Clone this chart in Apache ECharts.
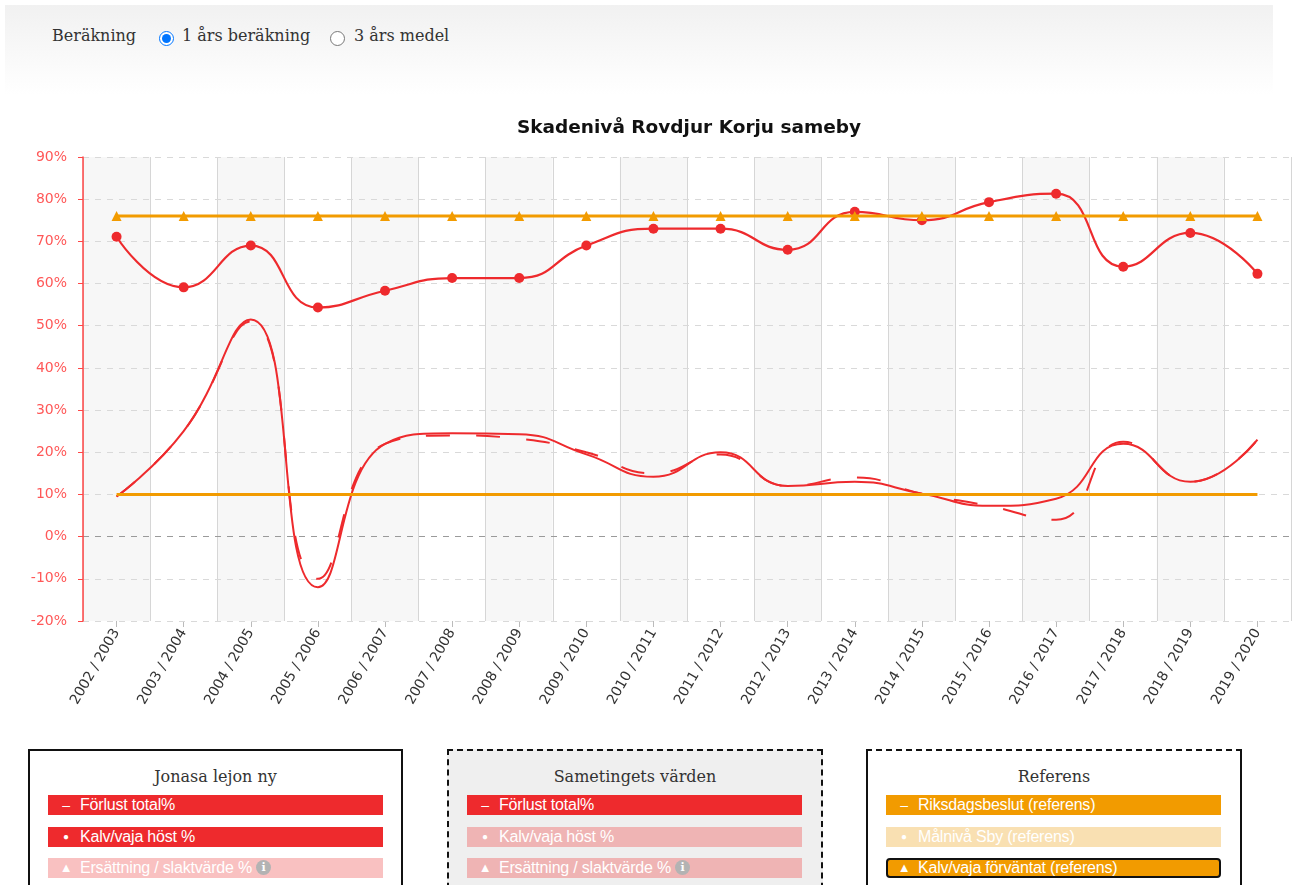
<!DOCTYPE html>
<html>
<head>
<meta charset="utf-8">
<script src="https://cdn.jsdelivr.net/npm/echarts@6/dist/echarts.min.js"></script>
<style>
  html, body { margin:0; padding:0; background:#fff; width:1293px; height:885px; overflow:hidden; }
  #topbar { position:absolute; left:5px; top:5px; width:1268px; height:90px;
    background:linear-gradient(#f1f1f1, #ffffff); font-family:"DejaVu Serif", serif; font-size:16px; color:#333; }
  #topbar .lbl { position:absolute; top:21px; white-space:nowrap; }
  #topbar input { position:absolute; margin:0; width:15px; height:15px; top:26px; }
  #chart { position:absolute; left:0; top:0; width:1293px; height:745px; }
  .box { position:absolute; top:749px; width:371px; height:150px; box-sizing:border-box; }
  .box .ttl { position:absolute; left:0; right:0; top:16px; text-align:center; font-family:"DejaVu Serif", serif; font-size:16px; color:#333; }
  .item { position:absolute; left:18px; width:335px; height:20px; font-family:"Liberation Sans", Arial, sans-serif; font-size:16px; letter-spacing:-0.2px; color:#fff; line-height:20px; box-sizing:border-box; white-space:nowrap; }
  .item .sym { position:absolute; left:11px; top:0; width:14px; text-align:center; font-family:"Liberation Sans", Arial, sans-serif; font-size:14px; }
  .item .txt { position:absolute; left:32px; top:0; }
  .info { display:inline-block; width:15px; height:15px; border-radius:50%; background:#b3b3b3; color:#fff; font-size:11px; line-height:15px; text-align:center; font-weight:bold; vertical-align:2px; margin-left:4px; font-family:"DejaVu Serif", serif; letter-spacing:0; }
</style>
</head>
<body>
<div id="chart"></div>
<div id="topbar">
  <span class="lbl" style="left:47px;">Beräkning</span>
  <input type="radio" name="b" checked style="left:154px;">
  <span class="lbl" style="left:177px;">1 års beräkning</span>
  <input type="radio" name="b" style="left:325px;">
  <span class="lbl" style="left:349px;">3 års medel</span>
</div>
<div id="legends"></div>
<script>
// ---- data ----
const categories = ['2002 / 2003','2003 / 2004','2004 / 2005','2005 / 2006','2006 / 2007','2007 / 2008',
  '2008 / 2009','2009 / 2010','2010 / 2011','2011 / 2012','2012 / 2013','2013 / 2014','2014 / 2015',
  '2015 / 2016','2016 / 2017','2017 / 2018','2018 / 2019','2019 / 2020'];
const kalvHost        = [71.1, 59.1, 69, 54.3, 58.3, 61.3, 61.3, 69, 73, 73, 68, 77, 75, 79.3, 81.3, 64, 72, 62.3];
const forlustJonasa   = [9.5, 25, 51.5, -12, 22, 24.5, 24.3, 19.5, 14.2, 20, 12, 13, 10.2, 7.3, 9, 22, 13, 23];
const forlustSameting = [9.5, 25, 51, -10, 22, 24, 23.2, 20, 15, 19.5, 12, 14, 10.2, 7.3, 4, 22.5, 13, 23];
const riksdagsbeslut  = [10,10,10,10,10,10,10,10,10,10,10,10,10,10,10,10,10,10];
const kalvForvantat   = [76,76,76,76,76,76,76,76,76,76,76,76,76,76,76,76,76,76];
const yMin = -20, yMax = 90, yStep = 10;

const legendGroups = [
  { title: 'Jonasa lejon ny', items: [
      { sym: '–', text: 'Förlust total%', color: '#ee2a2d' },
      { sym: '●', text: 'Kalv/vaja höst %', color: '#ee2a2d' },
      { sym: '▲', text: 'Ersättning / slaktvärde %', color: '#f9c1c1', info: true } ] },
  { title: 'Sametingets värden', items: [
      { sym: '–', text: 'Förlust total%', color: '#ee2a2d' },
      { sym: '●', text: 'Kalv/vaja höst %', color: '#efb4b4' },
      { sym: '▲', text: 'Ersättning / slaktvärde %', color: '#efb4b4', info: true } ] },
  { title: 'Referens', items: [
      { sym: '–', text: 'Riksdagsbeslut (referens)', color: '#f29b00' },
      { sym: '●', text: 'Målnivå Sby (referens)', color: '#f9e0b2' },
      { sym: '▲', text: 'Kalv/vaja förväntat (referens)', color: '#f29b00', focus: true } ] }
];

// ---- legend boxes (HTML) ----
const boxStyles = [
  { left: 28, css: 'border:2px solid #111;background:#fff;' },
  { left: 447, css: 'border:2px dashed #111;background:#efefef;' },
  { left: 866, css: 'border-top:2px dashed #111;border-left:2px solid #111;border-right:2px solid #111;background:#fff;' }
];
const host = document.getElementById('legends');
legendGroups.forEach((g, gi) => {
  const b = document.createElement('div');
  b.className = 'box';
  b.style.cssText = 'left:' + boxStyles[gi].left + 'px;' + boxStyles[gi].css + (gi===0?'width:375px;':'width:376px;');
  const t = document.createElement('div'); t.className = 'ttl'; t.textContent = g.title; b.appendChild(t);
  g.items.forEach((it, ii) => {
    const d = document.createElement('div');
    d.className = 'item';
    d.style.top = (44 + ii * 31.5) + 'px';
    d.style.background = it.color;
    if (it.focus) { d.style.border = '2px solid #111'; d.style.borderRadius = '4px'; d.style.lineHeight = '16px'; }
    const s = document.createElement('span'); s.className = 'sym'; s.textContent = it.sym;
    if (it.sym === '●') { s.style.fontSize = '10px'; }
    if (it.sym === '▲') { s.style.fontSize = '13px'; }
    if (it.focus) { s.style.left = '9px'; }
    const x = document.createElement('span'); x.className = 'txt'; x.textContent = it.text;
    if (it.focus) { x.style.left = '30px'; }
    if (it.info) { const i = document.createElement('span'); i.className = 'info'; i.textContent = 'i'; x.appendChild(i); }
    d.appendChild(s); d.appendChild(x); b.appendChild(d);
  });
  host.appendChild(b);
});

// ---- chart ----
const chart = echarts.init(document.getElementById('chart'), null, { renderer: 'canvas' });
const nLines = Math.round((yMax - yMin) / yStep) + 1;
const splitColors = [];
for (let i = 0; i < nLines; i++) splitColors.push(yMin + i * yStep === 0 ? '#9a9a9a' : '#d9d9d9');
const RED = '#ee2a2d', ORANGE = '#f29b00';
chart.setOption({
  animation: false,
  title: { text: 'Skadenivå Rovdjur Korju sameby', left: 684, top: 114, textAlign: 'center',
    textStyle: { fontFamily: 'DejaVu Sans', fontSize: 18.5, fontWeight: 'bold', color: '#111' } },
  grid: { left: 83, right: 2, top: 157, height: 464, containLabel: false },
  xAxis: {
    type: 'category', data: categories, boundaryGap: true, z: 0,
    axisLine: { show: false, onZero: false },
    axisTick: { show: true, alignWithLabel: true, length: 6, lineStyle: { color: '#bbb' } },
    axisLabel: { rotate: 60, margin: 9, color: '#333', fontFamily: 'DejaVu Sans', fontSize: 14 },
    splitLine: { show: true, lineStyle: { color: '#d6d6d6', width: 1 } },
    splitArea: { show: true, areaStyle: { color: ['#f7f7f7', '#ffffff'] } }
  },
  yAxis: {
    type: 'value', min: yMin, max: yMax, interval: yStep, z: 1,
    axisLine: { show: true, lineStyle: { color: '#ff4646', width: 1.5 } },
    axisTick: { show: true, length: 5, lineStyle: { color: '#ff4646' } },
    axisLabel: { formatter: '{value}%', color: '#ff5858', fontFamily: 'DejaVu Sans', fontSize: 14, margin: 16 },
    splitLine: { show: true, lineStyle: { type: [6, 6], color: splitColors } }
  },
  series: [
    { name: 'Förlust total% (Sametinget)', type: 'line', data: forlustSameting, smooth: true, showSymbol: false,
      lineStyle: { color: RED, width: 2, type: [24, 26] }, itemStyle: { color: RED }, z: 2 },
    { name: 'Förlust total%', type: 'line', data: forlustJonasa, smooth: true, showSymbol: false,
      lineStyle: { color: RED, width: 2 }, itemStyle: { color: RED }, z: 2 },
    { name: 'Kalv/vaja höst %', type: 'line', data: kalvHost, smooth: true, symbol: 'circle', symbolSize: 10,
      lineStyle: { color: RED, width: 2.2 }, itemStyle: { color: RED }, z: 3 },
    { name: 'Riksdagsbeslut (referens)', type: 'line', data: riksdagsbeslut, showSymbol: false,
      lineStyle: { color: ORANGE, width: 3 }, itemStyle: { color: ORANGE }, z: 4 },
    { name: 'Kalv/vaja förväntat (referens)', type: 'line', data: kalvForvantat, symbol: 'triangle', symbolSize: 10,
      lineStyle: { color: ORANGE, width: 3 }, itemStyle: { color: ORANGE }, z: 5 }
  ]
});
</script>
</body>
</html>
